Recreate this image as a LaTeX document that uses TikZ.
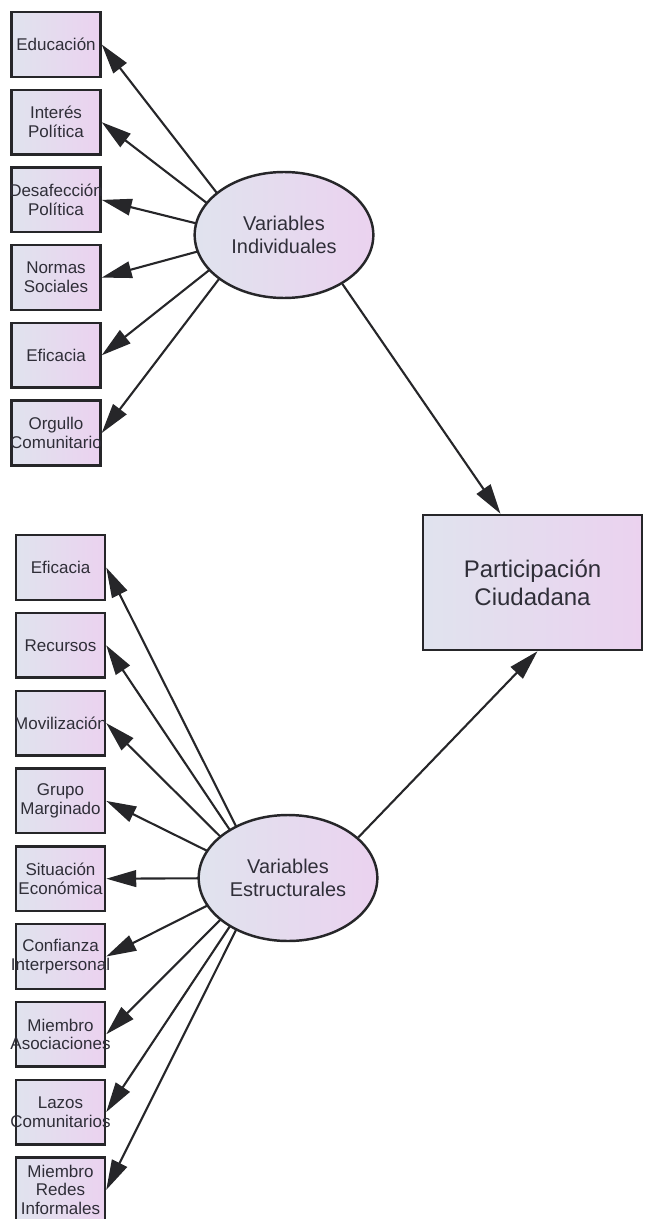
\documentclass[tikz,border=0pt]{standalone}
\usepackage{fontspec}
\setmainfont{Liberation Sans}
\usetikzlibrary{shapes.geometric}
\usetikzlibrary{arrows.meta}
\usetikzlibrary{backgrounds}
\definecolor{shadeleft}{HTML}{E0E3EE}
\definecolor{shaderight}{HTML}{EBD2EF}
\definecolor{edge}{HTML}{262629}
\definecolor{ink}{HTML}{2F2E38}
\tikzset{obsbox/.style={draw=edge,line width=2.1pt,left color=shadeleft,right color=shaderight,minimum width=26.7mm,minimum height=19.4mm,inner sep=0pt,align=center,text=ink,font=\fontsize{14.5}{16}\selectfont}}
\tikzset{latent/.style={ellipse,draw=edge,line width=2.1pt,left color=shadeleft,right color=shaderight,minimum width=53.6mm,minimum height=37.8mm,inner sep=0pt,align=center,text=ink,font=\fontsize{17}{19.5}\selectfont}}
\tikzset{outcome/.style={draw=edge,line width=2.1pt,left color=shadeleft,right color=shaderight,minimum width=65.7mm,minimum height=40.5mm,inner sep=0pt,align=center,text=ink,font=\fontsize{20.5}{24}\selectfont}}
\tikzset{loading/.style={draw=edge,line width=1.8pt,-{Triangle[length=9mm,width=5mm]}}}
\newcommand{\wideline}[1]{\makebox[24mm]{#1}}

\begin{document}
\begin{tikzpicture}[x=0.3mm,y=-0.3mm]
      \pgfmathsetmacro{\gapind}{77.7}
      \pgfmathsetmacro{\gapest}{77.8}
      \useasboundingbox (0,0) rectangle (644,1219);

      \node[latent] at (284,235) (VI) {Variables\\Individuales};
      \node[latent] at (288,878) (VE) {Variables\\Estructurales};
      \node[outcome] at (532.5,582.5) (PC) {Participación\\Ciudadana};
      \coordinate (VIhub) at (251,237);
      \coordinate (VEhub) at (262,878);

      \node[obsbox] at (56,44.5) (edu) {Educación};
      \node[obsbox] at (56,44.5+\gapind) (ipol) {Interés\\Política};
      \node[obsbox] at (56,44.5+2*\gapind) (dpol) {\wideline{Desafección}\\Política};
      \node[obsbox] at (56,44.5+3*\gapind) (nsoc) {Normas\\Sociales};
      \node[obsbox] at (56,44.5+4*\gapind) (efi) {Eficacia};
      \node[obsbox] at (56,44.5+5*\gapind) (orgc) {Orgullo\\\wideline{Comunitario}};

      \node[obsbox] at (60.5,567.5) (efe) {Eficacia};
      \node[obsbox] at (60.5,567.5+\gapest) (rec) {Recursos};
      \node[obsbox] at (60.5,567.5+2*\gapest) (mov) {\wideline{Movilización}};
      \node[obsbox] at (60.5,567.5+3*\gapest) (gmar) {Grupo\\Marginado};
      \node[obsbox] at (60.5,567.5+4*\gapest) (seco) {Situación\\\wideline{Económica}};
      \node[obsbox] at (60.5,567.5+5*\gapest) (cint) {Confianza\\\wideline{Interpersonal}};
      \node[obsbox] at (60.5,567.5+6*\gapest) (masoc) {Miembro\\\wideline{Asociaciones}};
      \node[obsbox] at (60.5,567.5+7*\gapest) (lcom) {Lazos\\\wideline{Comunitarios}};
      \node[obsbox] at (60.5,567.5+8*\gapest) (mred) {Miembro\\Redes\\\wideline{Informales}};

      \begin{scope}[on background layer]
      \draw[loading] (VIhub) -- (edu.east);
      \draw[loading] (VIhub) -- (ipol.east);
      \draw[loading] (VIhub) -- (dpol.east);
      \draw[loading] (VIhub) -- (nsoc.east);
      \draw[loading] (VIhub) -- (efi.east);
      \draw[loading] (VIhub) -- (orgc.east);

      \draw[loading] (VEhub) -- (efe.east);
      \draw[loading] (VEhub) -- (rec.east);
      \draw[loading] (VEhub) -- (mov.east);
      \draw[loading] (VEhub) -- (gmar.east);
      \draw[loading] (VEhub) -- (seco.east);
      \draw[loading] (VEhub) -- (cint.east);
      \draw[loading] (VEhub) -- (masoc.east);
      \draw[loading] (VEhub) -- (lcom.east);
      \draw[loading] (VEhub) -- (mred.east);
      \end{scope}

      \draw[loading] (VI.-40) -- ([xshift=-9.6mm]PC.north);
      \draw[loading] (VE.30) -- ([xshift=1.5mm]PC.south);
\end{tikzpicture}
\end{document}
